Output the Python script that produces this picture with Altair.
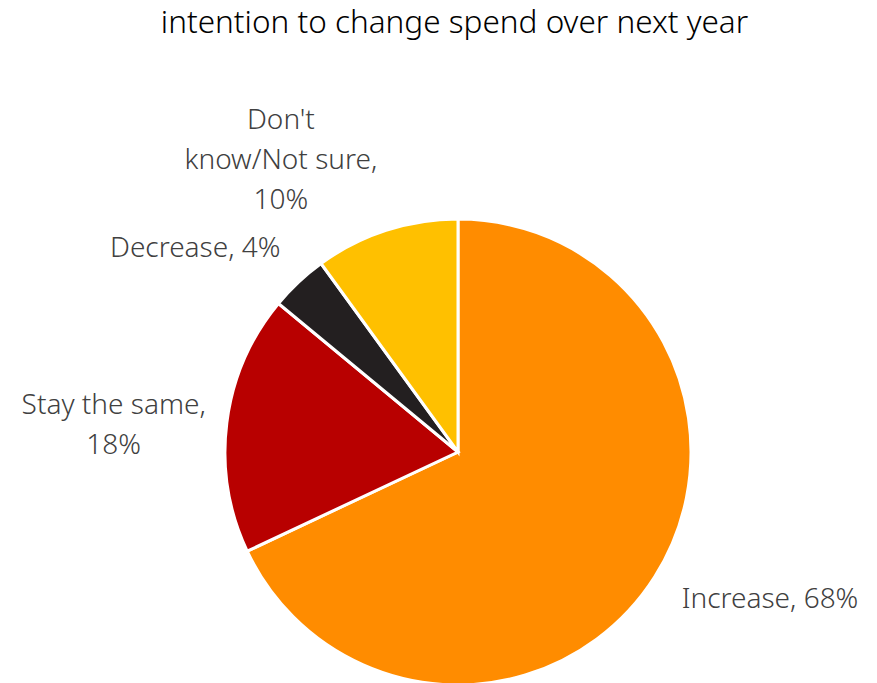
import altair as alt
import pandas as pd

categories = ["Increase", "Stay the same", "Decrease", "Don't know/Not sure"]
labels = ["Increase, 68%", "Stay the same,\n18%", "Decrease, 4%", "Don't\nknow/Not sure,\n10%"]
values = [68, 18, 4, 10]
colors = ["#FF8C00", "#B80000", "#231F20", "#FFC000"]

df = pd.DataFrame({"category": categories, "label": labels, "value": values,
                   "order": list(range(len(values)))})

FONT = "Noto Sans"
CX, CY = 458, 392

pie = alt.Chart(df).mark_arc(stroke="white", strokeWidth=3, radius=233).encode(
    theta=alt.Theta("value:Q", stack=True),
    order=alt.Order("order:Q"),
    x=alt.value(CX), y=alt.value(CY),
    color=alt.Color("category:N", scale=alt.Scale(domain=categories, range=colors), legend=None),
)

# label nudges (style only), per category
nudges = {
    "Increase": (25, -34),
    "Stay the same": (-7, -3),
    "Decrease": (-30, 45),
    "Don't know/Not sure": (-72, -8),
}

text_base = alt.Chart(df).transform_window(
    cum="sum(value)", sort=[alt.SortField("order")], frame=[None, 0]
).transform_joinaggregate(
    total="sum(value)"
).transform_calculate(
    mid="(datum.cum - datum.value / 2) / datum.total"
)

text_layers = []
for cat, (ddx, ddy) in nudges.items():
    text_layers.append(
        text_base.transform_filter(alt.datum.category == cat).mark_text(
            radius=340, fontSize=28, font=FONT, color="#404040", fontWeight=300,
            lineBreak="\n", lineHeight=40, align="center", baseline="middle",
            dx=ddx, dy=ddy).encode(
            theta=alt.Theta("mid:Q", stack=False, scale=alt.Scale(domain=[0, 1])),
            x=alt.value(CX), y=alt.value(CY),
            text="label:N",
        )
    )

chart = alt.layer(pie, *text_layers).resolve_scale(theta="independent").properties(
    width=877, height=623,
    padding={"top": 60, "left": 0, "right": 0, "bottom": 0},
    autosize=alt.AutoSizeParams(type="none"),
    title=alt.TitleParams("intention to change spend over next year", fontSize=31.5, font=FONT,
                          fontWeight=300, color="#000000", anchor="middle", offset=21, dx=16),
).configure_view(stroke=None)

chart.save("out.html", embed_options={"renderer": "svg", "actions": False})
